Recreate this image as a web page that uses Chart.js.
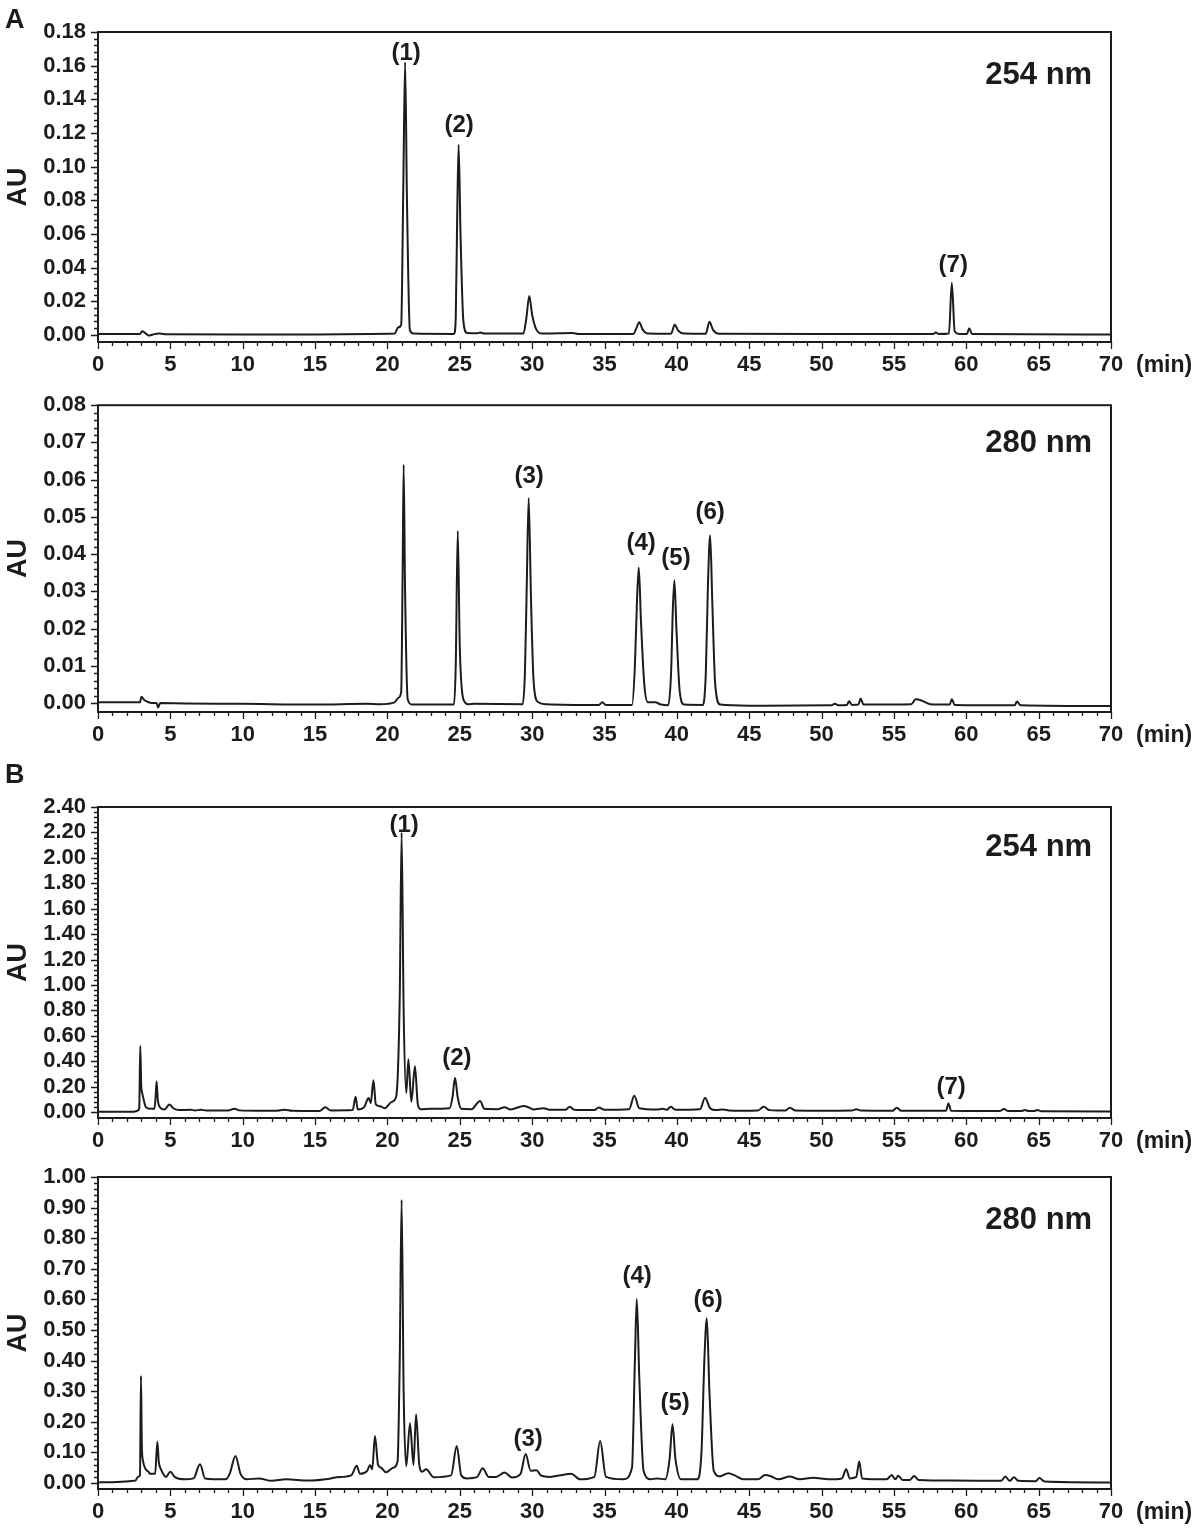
<!DOCTYPE html>
<html>
<head>
<meta charset="utf-8">
<script src="https://cdn.jsdelivr.net/npm/chart.js@4.4.1/dist/chart.umd.min.js"></script>
<style>
  body { margin: 0; background: #fff; }
  #wrap { position: relative; width: 1200px; height: 1528px; overflow: hidden; }
  #wrap canvas { position: absolute; left: 0; }
</style>
</head>
<body>
<div id="wrap">
  <canvas id="c1" width="1200" height="385" style="top:0px"></canvas>
  <canvas id="c2" width="1200" height="385" style="top:380px"></canvas>
  <canvas id="c3" width="1200" height="395" style="top:760px"></canvas>
  <canvas id="c4" width="1200" height="378" style="top:1150px"></canvas>
</div>
<script>
// retention time ticks (min)
const xTicks = [0, 5, 10, 15, 20, 25, 30, 35, 40, 45, 50, 55, 60, 65, 70];

// AU ticks for each panel
const yTicksA254 = [0, 0.02, 0.04, 0.06, 0.08, 0.10, 0.12, 0.14, 0.16, 0.18];
const yTicksA280 = [0, 0.01, 0.02, 0.03, 0.04, 0.05, 0.06, 0.07, 0.08];
const yTicksB254 = [0, 0.2, 0.4, 0.6, 0.8, 1.0, 1.2, 1.4, 1.6, 1.8, 2.0, 2.2, 2.4];
const yTicksB280 = [0, 0.1, 0.2, 0.3, 0.4, 0.5, 0.6, 0.7, 0.8, 0.9, 1.0];

// chromatogram traces, [time (min), AU]
const traceA254 = [
  [0, 0.0005], [2.9, 0.0005], [3.05, 0.0022], [3.25, 0.0012], [3.5, -0.0004], [3.8, 0.0003],
  [4.2, 0.0009], [4.6, 0.0004], [10, 0.0003], [15, 0.0003], [18.8, 0.0006], [20.5, 0.0008],
  [20.75, 0.0045], [20.95, 0.006], [21.1, 0.09], [21.22, 0.162], [21.35, 0.08], [21.55, 0.003],
  [21.8, 0.0008], [24.6, 0.0006], [24.72, 0.01], [24.82, 0.07], [24.92, 0.113], [25.05, 0.06],
  [25.25, 0.008], [25.5, 0.0012], [26.2, 0.001], [26.4, 0.0015], [26.7, 0.0008], [29.4, 0.0008],
  [29.6, 0.01], [29.8, 0.0232], [30.0, 0.012], [30.3, 0.003], [30.7, 0.0008], [32.8, 0.0012],
  [33.2, 0.0006], [37.0, 0.0006], [37.2, 0.004], [37.4, 0.0075], [37.65, 0.003], [38.0, 0.0008],
  [39.6, 0.0007], [39.85, 0.006], [40.1, 0.0025], [40.5, 0.0008], [42.0, 0.0007], [42.25, 0.0079],
  [42.5, 0.003], [42.9, 0.0007], [50, 0.0005], [57.7, 0.0005], [57.9, 0.0015], [58.1, 0.0005],
  [58.8, 0.0008], [59.0, 0.031], [59.2, 0.002], [59.5, 0.0006], [60.05, 0.0006], [60.2, 0.004],
  [60.4, 0.0006], [70, 0.0003]
];

const traceA280 = [
  [0, 0.0002], [2.9, 0.0002], [3.0, 0.0017], [3.2, 0.0008], [3.4, 0.0004], [3.7, 0.0], [4.05, 0.0],
  [4.15, -0.0012], [4.3, 0.0], [6, -0.0001], [10, -0.0002], [15, -0.0004], [18.6, -0.0002],
  [19.5, -0.0003], [20.5, 0.0002], [20.75, 0.0014], [20.95, 0.003], [21.05, 0.035], [21.12, 0.064],
  [21.22, 0.03], [21.4, 0.001], [21.7, -0.0004], [24.6, -0.0004], [24.72, 0.01], [24.86, 0.0462],
  [25.0, 0.015], [25.25, 0.001], [25.6, -0.0003], [26.0, -0.0002], [29.35, -0.0003], [29.5, 0.008],
  [29.62, 0.03], [29.76, 0.0551], [29.92, 0.028], [30.1, 0.006], [30.4, 0.0003], [31, -0.0003],
  [34.6, -0.0005], [34.85, 0.0002], [35.1, -0.0005], [36.9, -0.0005], [37.1, 0.01], [37.25, 0.028],
  [37.37, 0.0364], [37.52, 0.022], [37.75, 0.005], [38.0, 0.0002], [38.5, 0.0002], [38.9, -0.0004],
  [39.4, -0.0006], [39.6, 0.008], [39.72, 0.025], [39.83, 0.033], [39.97, 0.02], [40.2, 0.003],
  [40.5, -0.0004], [41.8, -0.0005], [42.0, 0.008], [42.15, 0.032], [42.3, 0.0451], [42.45, 0.027],
  [42.65, 0.005], [43.0, -0.0004], [45, -0.0007], [50.7, -0.0006], [50.9, -0.0002], [51.2, -0.0006],
  [51.75, -0.0005], [51.9, 0.0005], [52.1, -0.0005], [52.55, -0.0004], [52.7, 0.0012], [52.9, -0.0004],
  [56.2, -0.0003], [56.5, 0.001], [56.9, 0.0007], [57.5, -0.0003], [58.85, -0.0004], [59.0, 0.001],
  [59.2, -0.0005], [63.35, -0.0006], [63.5, 0.0004], [63.75, -0.0006], [70, -0.0008]
];

const traceB254 = [
  [0, 0.002], [2.5, 0.003], [2.75, 0.012], [2.85, 0.03], [2.92, 0.52], [2.99, 0.2], [3.06, 0.147],
  [3.15, 0.1], [3.3, 0.04], [3.6, 0.025], [3.9, 0.025], [3.98, 0.12], [4.05, 0.24], [4.13, 0.1],
  [4.3, 0.035], [4.6, 0.02], [4.93, 0.06], [5.2, 0.03], [5.6, 0.015], [6.4, 0.018], [6.7, 0.012],
  [7.1, 0.018], [7.5, 0.012], [9.0, 0.012], [9.42, 0.026], [9.8, 0.013], [11, 0.01], [12.3, 0.01],
  [12.9, 0.018], [13.4, 0.01], [15.3, 0.008], [15.7, 0.037], [16.1, 0.012], [17.6, 0.015],
  [17.8, 0.12], [17.95, 0.02], [18.4, 0.04], [18.7, 0.11], [18.85, 0.07], [19.03, 0.25], [19.2, 0.06],
  [19.5, 0.045], [19.8, 0.03], [20.3, 0.08], [20.6, 0.12], [20.85, 0.9], [20.98, 2.2], [21.12, 0.8],
  [21.3, 0.15], [21.45, 0.415], [21.65, 0.08], [21.9, 0.36], [22.1, 0.06], [22.3, 0.022], [23, 0.025],
  [24.3, 0.03], [24.5, 0.12], [24.67, 0.27], [24.85, 0.12], [25.1, 0.025], [25.8, 0.022], [26.4, 0.087],
  [26.7, 0.025], [27.6, 0.022], [28.1, 0.037], [28.5, 0.02], [29.4, 0.047], [29.8, 0.035], [30.1, 0.02],
  [30.8, 0.03], [31.2, 0.018], [32.3, 0.018], [32.6, 0.042], [32.9, 0.018], [34.3, 0.015], [34.6, 0.036],
  [35.0, 0.018], [36.7, 0.022], [37.06, 0.128], [37.4, 0.03], [38.6, 0.02], [39.0, 0.025], [39.3, 0.018],
  [39.58, 0.042], [39.9, 0.018], [41.6, 0.022], [41.95, 0.113], [42.3, 0.03], [42.7, 0.015], [43.2, 0.02],
  [43.6, 0.012], [44.5, 0.01], [45.6, 0.012], [46.0, 0.042], [46.4, 0.015], [47.0, 0.012], [47.5, 0.012],
  [47.8, 0.034], [48.2, 0.012], [50, 0.01], [52.1, 0.012], [52.4, 0.022], [52.7, 0.012], [54.9, 0.01],
  [55.2, 0.034], [55.5, 0.01], [58.6, 0.01], [58.77, 0.068], [58.95, 0.01], [62.3, 0.008], [62.6, 0.024],
  [62.9, 0.008], [63.8, 0.008], [64.06, 0.016], [64.3, 0.008], [64.7, 0.008], [64.9, 0.016], [65.2, 0.006],
  [70, 0.004]
];

const traceB280 = [
  [0, 0.002], [2.6, 0.008], [2.75, 0.02], [2.9, 0.025], [2.97, 0.35], [3.03, 0.12], [3.1, 0.075],
  [3.3, 0.045], [3.48, 0.037], [3.6, 0.03], [3.95, 0.03], [4.1, 0.135], [4.2, 0.07], [4.35, 0.045],
  [4.7, 0.02], [5.0, 0.037], [5.3, 0.02], [6.0, 0.012], [6.6, 0.015], [7.05, 0.061], [7.4, 0.015],
  [8.8, 0.012], [9.1, 0.03], [9.5, 0.088], [9.85, 0.03], [10.3, 0.012], [11.1, 0.015], [12.0, 0.007],
  [13.0, 0.012], [14.5, 0.008], [16.0, 0.014], [16.5, 0.019], [17.5, 0.025], [17.88, 0.056],
  [18.1, 0.03], [18.6, 0.04], [18.8, 0.059], [18.95, 0.045], [19.14, 0.154], [19.35, 0.06],
  [19.56, 0.05], [19.9, 0.035], [20.4, 0.05], [20.7, 0.07], [20.85, 0.4], [20.98, 0.925],
  [21.12, 0.3], [21.3, 0.055], [21.56, 0.195], [21.8, 0.059], [21.98, 0.225], [22.2, 0.06],
  [22.4, 0.037], [22.67, 0.045], [23.2, 0.019], [24.4, 0.025], [24.79, 0.121], [25.1, 0.025],
  [25.5, 0.015], [26.2, 0.02], [26.58, 0.048], [27.0, 0.02], [27.5, 0.02], [28.1, 0.034],
  [28.6, 0.018], [29.2, 0.03], [29.55, 0.095], [29.9, 0.04], [30.3, 0.042], [30.6, 0.025],
  [31.2, 0.02], [32.27, 0.028], [32.7, 0.03], [33.3, 0.012], [34.3, 0.02], [34.7, 0.137],
  [35.1, 0.02], [36.3, 0.012], [36.9, 0.05], [37.1, 0.4], [37.23, 0.601], [37.4, 0.35], [37.7, 0.04],
  [38.2, 0.012], [38.6, 0.015], [39.2, 0.012], [39.5, 0.08], [39.7, 0.192], [39.9, 0.08],
  [40.3, 0.012], [41.4, 0.012], [41.7, 0.1], [41.9, 0.4], [42.07, 0.538], [42.25, 0.3], [42.55, 0.04],
  [43.0, 0.022], [43.56, 0.032], [44.0, 0.025], [44.6, 0.012], [45.6, 0.012], [46.1, 0.026], [46.5, 0.022],
  [47.0, 0.012], [47.8, 0.021], [48.5, 0.012], [49.4, 0.017], [50.5, 0.012], [51.4, 0.015],
  [51.7, 0.045], [51.95, 0.015], [52.4, 0.02], [52.6, 0.07], [52.8, 0.015], [54.5, 0.012],
  [54.85, 0.026], [55.1, 0.012], [55.3, 0.024], [55.6, 0.01], [56.1, 0.01], [56.4, 0.023], [56.7, 0.01],
  [59, 0.008], [62.4, 0.007], [62.7, 0.021], [63.0, 0.007], [63.3, 0.019], [63.6, 0.007],
  [64.8, 0.006], [65.05, 0.016], [65.4, 0.005], [70, 0.002]
];

// peak labels: [text, time, AU]
const peaksA254 = [['(1)', 21.29, 0.1672], ['(2)', 24.95, 0.1247], ['(7)', 59.1, 0.0416]];
const peaksA280 = [['(3)', 29.79, 0.0609], ['(4)', 37.53, 0.0428], ['(5)', 39.94, 0.0388], ['(6)', 42.3, 0.0513]];
const peaksB254 = [['(1)', 21.15, 2.258], ['(2)', 24.8, 0.425], ['(7)', 58.95, 0.197]];
const peaksB280 = [['(3)', 29.72, 0.144], ['(4)', 37.25, 0.676], ['(5)', 39.88, 0.261], ['(6)', 42.16, 0.598]];

const INK = '#1c1c1c';
const FONT = '"Liberation Sans", Arial, Helvetica, sans-serif';

function drawPanel(id, canvasTop, areaTop, areaBottom, trace, yMin, yTicks, yMinor, peaks, wave, waveY, letter, letterY) {
  const canvas = document.getElementById(id);
  const h = canvas.height;
  const yMax = yTicks[yTicks.length - 1];
  const majorStep = yTicks[1] - yTicks[0];

  const extras = {
    id: 'extras' + id,
    afterDraw(chart) {
      const ctx = chart.ctx;
      const a = chart.chartArea;
      const xs = chart.scales.x, ys = chart.scales.y;
      ctx.save();
      ctx.strokeStyle = INK;
      ctx.fillStyle = INK;
      ctx.lineWidth = 2;
      ctx.strokeRect(a.left, a.top, a.right - a.left, a.bottom - a.top);

      // x ticks, every minute
      ctx.lineWidth = 1.3;
      ctx.beginPath();
      for (let t = 0; t <= 70; t++) {
        const px = Math.round(xs.getPixelForValue(t)) + 0.5;
        const len = t % 5 === 0 ? 7 : 4;
        ctx.moveTo(px, a.bottom);
        ctx.lineTo(px, a.bottom + len);
      }
      // y ticks
      const n = Math.round(yMax / yMinor);
      for (let i = 0; i <= n; i++) {
        const v = i * yMinor;
        const py = Math.round(ys.getPixelForValue(v)) + 0.5;
        const r = v / majorStep;
        const len = Math.abs(r - Math.round(r)) < 1e-6 ? 7 : 4;
        ctx.moveTo(a.left, py);
        ctx.lineTo(a.left - len, py);
      }
      ctx.stroke();

      // axis titles
      ctx.font = 'bold 23px ' + FONT;
      ctx.textAlign = 'left';
      ctx.textBaseline = 'middle';
      ctx.fillText('(min)', 1136, a.bottom + 24);

      ctx.save();
      ctx.translate(19, (a.top + a.bottom) / 2);
      ctx.rotate(-Math.PI / 2);
      ctx.font = 'bold 27px ' + FONT;
      ctx.textAlign = 'center';
      ctx.textBaseline = 'middle';
      ctx.fillText('AU', 0, 0);
      ctx.restore();

      // peak numbers
      ctx.font = 'bold 24px ' + FONT;
      ctx.textAlign = 'center';
      ctx.textBaseline = 'middle';
      peaks.forEach(p => {
        ctx.fillText(p[0], xs.getPixelForValue(p[1]), ys.getPixelForValue(p[2]));
      });

      // wavelength
      ctx.font = 'bold 31px ' + FONT;
      ctx.textAlign = 'right';
      ctx.fillText(wave, xs.getPixelForValue(68.7), ys.getPixelForValue(waveY));

      if (letter) {
        ctx.font = 'bold 27px ' + FONT;
        ctx.textAlign = 'left';
        ctx.textBaseline = 'alphabetic';
        ctx.fillText(letter, 5, letterY);
      }
      ctx.restore();
    }
  };

  new Chart(canvas, {
    type: 'line',
    data: {
      datasets: [{
        data: trace.map(p => ({x: p[0], y: p[1]})),
        borderColor: INK,
        borderWidth: 2,
        pointRadius: 0,
        fill: false,
        cubicInterpolationMode: 'monotone'
      }]
    },
    options: {
      responsive: false,
      animation: false,
      events: [],
      layout: { padding: { top: areaTop - canvasTop, right: 89, left: 0, bottom: 0 } },
      plugins: { legend: { display: false }, tooltip: { enabled: false } },
      scales: {
        x: {
          type: 'linear',
          min: 0,
          max: 70,
          afterBuildTicks: s => { s.ticks = xTicks.map(v => ({value: v})); },
          afterFit: s => { s.height = h - (areaBottom - canvasTop); },
          grid: { display: false, drawTicks: false },
          border: { display: false },
          ticks: {
            color: INK,
            padding: 10,
            maxRotation: 0,
            autoSkip: false,
            font: { family: FONT, weight: 'bold', size: 22 },
            callback: v => String(v)
          }
        },
        y: {
          type: 'linear',
          min: yMin,
          max: yMax,
          afterBuildTicks: s => { s.ticks = yTicks.map(v => ({value: v})); },
          afterFit: s => { s.width = 98; },
          grid: { display: false, drawTicks: false },
          border: { display: false },
          ticks: {
            color: INK,
            padding: 12,
            autoSkip: false,
            font: { family: FONT, weight: 'bold', size: 22 },
            callback: v => v.toFixed(2)
          }
        }
      }
    },
    plugins: [extras]
  });
}

drawPanel('c1', 0, 32, 342, traceA254, -0.0042, yTicksA254, 0.004, peaksA254, '254 nm', 0.1544, 'A', 28);
drawPanel('c2', 380, 402, 712, traceA280, -0.0024, yTicksA280, 0.002, peaksA280, '280 nm', 0.0696, null, 0);
drawPanel('c3', 760, 807, 1118, traceB254, -0.047, yTicksB254, 0.04, peaksB254, '254 nm', 2.085, 'B', 23);
drawPanel('c4', 1150, 1177, 1489, traceB280, -0.0196, yTicksB280, 0.02, peaksB280, '280 nm', 0.859, null, 0);
</script>
</body>
</html>
